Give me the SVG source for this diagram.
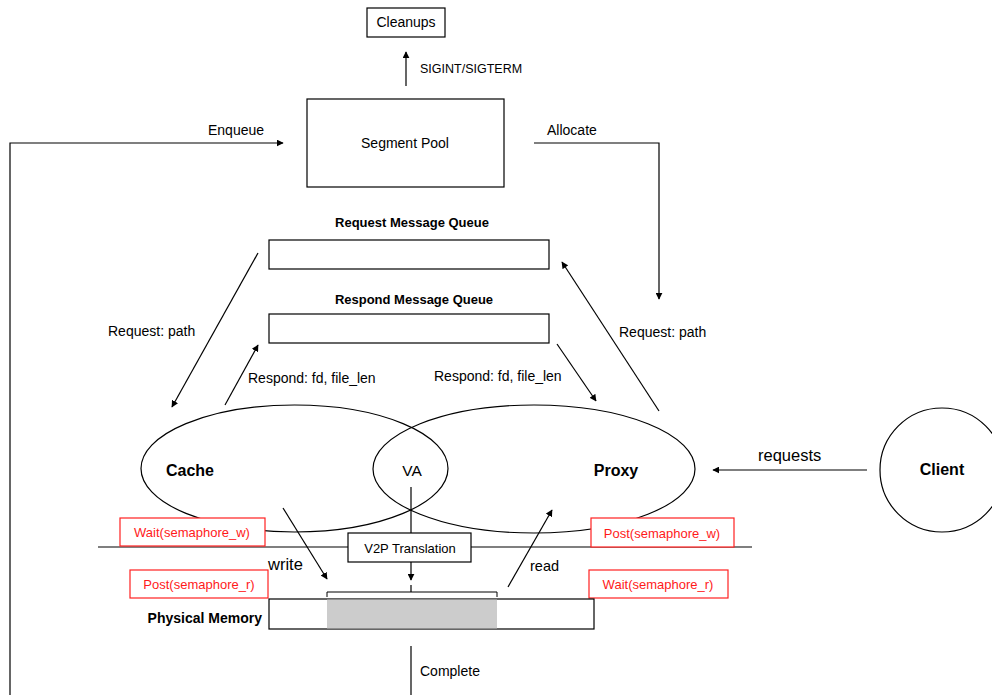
<svg xmlns="http://www.w3.org/2000/svg" width="992" height="695" viewBox="0 0 992 695">
<defs>
<marker id="ah" viewBox="0 0 10 10" refX="9" refY="5" markerWidth="7" markerHeight="7" markerUnits="userSpaceOnUse" orient="auto">
<path d="M0,0 L10,5 L0,10 z" fill="#000"/>
</marker>
<style>
text{font-family:"Liberation Sans",Arial,sans-serif;fill:#000;font-size:14px}
.b{font-weight:bold}
.c{text-anchor:middle}
.box{fill:#fff;stroke:#000;stroke-width:1.2}
.ln{fill:none;stroke:#000;stroke-width:1.2}
.arr{fill:none;stroke:#000;stroke-width:1.2;marker-end:url(#ah)}
.red{fill:#fff;stroke:#ff2020;stroke-width:1.2}
.rt{fill:#ff1a1a;font-size:13px}
</style>
</defs>
<rect width="992" height="695" fill="#fff"/>

<g id="connectors">
<line class="arr" x1="406" y1="86" x2="406" y2="52"/>
<polyline class="arr" points="10,695 10,143 283,143"/>
<polyline class="arr" points="534,143 659,143 659,299"/>
<line class="arr" x1="258" y1="253" x2="172" y2="407"/>
<line class="arr" x1="225" y1="405" x2="258" y2="345"/>
<line class="arr" x1="557" y1="344" x2="596" y2="401"/>
<line class="arr" x1="659" y1="411" x2="562" y2="262"/>
<line class="arr" x1="867" y1="470" x2="713" y2="470"/>
<line class="ln" x1="411" y1="487" x2="411" y2="533"/>
<line class="arr" x1="411" y1="562" x2="411" y2="580"/>
<line class="ln" x1="411" y1="585" x2="411" y2="592"/>
<line class="arr" x1="283" y1="508" x2="327" y2="579"/>
<line class="arr" x1="508" y1="587" x2="552" y2="510"/>
<line class="ln" x1="411" y1="646" x2="411" y2="695"/>
</g>

<g id="cleanups">
<rect class="box" x="367" y="8" width="78" height="29"/>
<text class="c" x="406" y="27">Cleanups</text>
</g>
<text x="420" y="73" style="font-size:12.5px">SIGINT/SIGTERM</text>
<text x="208" y="135">Enqueue</text>
<text x="547" y="135">Allocate</text>

<g id="segment-pool">
<rect class="box" x="307" y="99" width="197" height="88"/>
<text class="c" x="405" y="148">Segment Pool</text>
</g>

<g id="request-queue">
<text class="b c" x="412" y="227" style="font-size:13px">Request Message Queue</text>
<rect class="box" x="269" y="240" width="280" height="29"/>
</g>
<g id="respond-queue">
<text class="b c" x="414" y="304" style="font-size:13px">Respond Message Queue</text>
<rect class="box" x="269" y="314" width="280" height="29"/>
</g>

<text x="108" y="336">Request: path</text>
<text x="248" y="383">Respond: fd, file_len</text>
<text x="434" y="381">Respond: fd, file_len</text>
<text x="619" y="337">Request: path</text>

<g id="cache">
<ellipse class="ln" cx="294.500" cy="468.500" rx="153.500" ry="63.500"/>
<text class="b c" x="190" y="476" style="font-size:16px">Cache</text>
</g>
<g id="proxy">
<ellipse class="ln" cx="534" cy="469" rx="161" ry="64"/>
<text class="b c" x="616" y="476" style="font-size:16px">Proxy</text>
</g>
<text class="c" x="412" y="476" style="font-size:15.5px">VA</text>

<text x="758" y="461" style="font-size:16.5px">requests</text>
<g id="client">
<circle class="ln" cx="942" cy="470" r="62"/>
<text class="b c" x="942" y="475" style="font-size:16px">Client</text>
</g>

<line class="ln" x1="98" y1="547" x2="752" y2="547"/>

<g id="wait-w">
<rect class="red" x="120" y="518" width="145" height="28"/>
<text class="rt c" x="192" y="537">Wait(semaphore_w)</text>
</g>
<g id="post-w">
<rect class="red" x="591" y="518" width="143" height="29"/>
<text class="rt c" x="662" y="538">Post(semaphore_w)</text>
</g>
<g id="v2p">
<rect class="box" x="348" y="533" width="123" height="29"/>
<text class="c" x="410" y="553" style="font-size:13px">V2P Translation</text>
</g>
<text x="268" y="570" style="font-size:16.5px">write</text>
<text x="530" y="571" style="font-size:14.5px">read</text>
<g id="post-r">
<rect class="red" x="130" y="570" width="138" height="28"/>
<text class="rt c" x="199" y="589">Post(semaphore_r)</text>
</g>
<g id="wait-r">
<rect class="red" x="589" y="570" width="139" height="28"/>
<text class="rt c" x="658" y="589">Wait(semaphore_r)</text>
</g>

<g id="physical-memory">
<rect class="box" x="269" y="599" width="325" height="30"/>
<rect x="327" y="599.600" width="170" height="28.800" fill="#cccccc"/>
<polyline class="ln" points="327,597 327,592 497,592 497,597" style="stroke-width:1"/>
<text class="b" x="262" y="623" text-anchor="end">Physical Memory</text>
</g>
<text x="420" y="676">Complete</text>
</svg>
